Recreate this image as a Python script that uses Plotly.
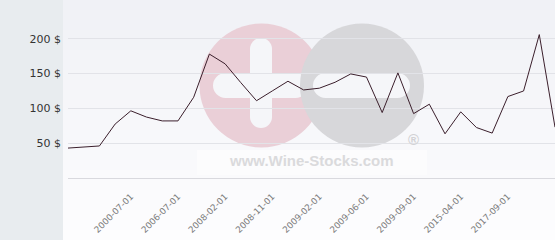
import plotly.graph_objects as go

# ---- data ----
categories = [
    "1995-07-01", "1997-07-01", "1998-07-01", "1999-07-01", "2000-07-01",
    "2002-07-01", "2004-07-01", "2006-07-01", "2007-01-01", "2007-07-01",
    "2008-02-01", "2008-05-01", "2008-08-01", "2008-11-01", "2008-12-01",
    "2009-01-01", "2009-02-01", "2009-03-01", "2009-04-01", "2009-06-01",
    "2009-07-01", "2009-08-01", "2009-09-01", "2011-01-01", "2013-01-01",
    "2015-04-01", "2016-01-01", "2016-09-01", "2017-09-01", "2018-06-01",
    "2019-06-01", "2020-06-01",
]
prices = [
    43, 44.5, 46, 77.5, 96.5, 87.5, 82, 82, 116, 178,
    164, 137, 111, 125, 139, 126.5, 129, 137.5, 149.5, 145,
    94, 151, 92.5, 106, 63.5, 95, 72.5, 64.5, 117, 125,
    206, 73,
]
tick_labels = ["2000-07-01", "2006-07-01", "2008-02-01", "2008-11-01",
               "2009-02-01", "2009-06-01", "2009-09-01", "2015-04-01",
               "2017-09-01"]
y_ticks = [50, 100, 150, 200]
y_tick_text = ["50 $", "100 $", "150 $", "200 $"]

# ---- geometry helpers (pixel -> paper) ----
W, H = 560, 240
L, R, T, B = 68, 5, 0, 62
PW, PH = W - L - R, H - T - B


def px(x):
    return (x - L) / PW


def py(y):
    return (H - B - y) / PH


shapes = []

# left panel
shapes.append(dict(type="rect", xref="paper", yref="paper", layer="below",
                   x0=px(0), x1=px(63), y0=py(240), y1=py(0),
                   fillcolor="#e8ecef", line=dict(width=0)))
# plot panel gradient bands
nb = 24
top = (240, 241, 246)
bot = (253, 253, 254)
for i in range(nb):
    t = i / (nb - 1)
    c = tuple(round(top[k] + (bot[k] - top[k]) * t) for k in range(3))
    y0 = 240 * i / nb
    y1 = 240 * (i + 1) / nb
    shapes.append(dict(type="rect", xref="paper", yref="paper", layer="below",
                       x0=px(63), x1=px(555), y0=py(y1 + 0.5), y1=py(y0),
                       fillcolor="rgb(%d,%d,%d)" % c, line=dict(width=0)))

# watermark image background
shapes.append(dict(type="rect", xref="paper", yref="paper", layer="below",
                   x0=px(197), x1=px(427), y0=py(175), y1=py(150),
                   fillcolor="#fcfcfd", line=dict(width=0)))


def circle(cx, cy, r, color):
    return dict(type="circle", xref="paper", yref="paper", layer="below",
                x0=px(cx - r), x1=px(cx + r), y0=py(cy + r), y1=py(cy - r),
                fillcolor=color, line=dict(width=0))


def rect(x0, x1, y0, y1, color):
    return dict(type="rect", xref="paper", yref="paper", layer="below",
                x0=px(x0), x1=px(x1), y0=py(y1), y1=py(y0),
                fillcolor=color, line=dict(width=0))


def hbar(x0, x1, y0, y1, color):
    r = (y1 - y0) / 2
    return [rect(x0 + r, x1 - r, y0, y1, color),
            circle(x0 + r, (y0 + y1) / 2, r, color),
            circle(x1 - r, (y0 + y1) / 2, r, color)]


def vbar(x0, x1, y0, y1, color):
    r = (x1 - x0) / 2
    return [rect(x0, x1, y0 + r, y1 - r, color),
            circle((x0 + x1) / 2, y0 + r, r, color),
            circle((x0 + x1) / 2, y1 - r, r, color)]


pink = "#eacfd7"
grey = "#d7d7da"
white = "#f5f6f9"
shapes.append(circle(261.5, 85.5, 62, pink))
shapes += vbar(250, 272, 38, 128, white)
shapes += hbar(213, 308, 73, 98, white)
shapes.append(circle(362, 85.5, 62, grey))
shapes += hbar(313, 410, 73, 98, white)

annotations = [
    dict(xref="paper", yref="paper", x=px(311), y=py(160.5), text="<b>www.Wine-Stocks.com</b>",
         showarrow=False, font=dict(family="Liberation Sans", size=15, color="#dadadc"),
         xanchor="center", yanchor="middle"),
    dict(xref="paper", yref="paper", x=px(413), y=py(139.5), text="<b>®</b>",
         showarrow=False, font=dict(family="Liberation Sans", size=15, color="#d2d2d5"),
         xanchor="center", yanchor="middle"),
]

fig = go.Figure()
fig.add_trace(go.Scatter(x=categories, y=prices, mode="lines",
                         line=dict(color="#3b1f2c", width=1), hoverinfo="skip"))

fig.update_layout(
    width=W, height=H,
    margin=dict(l=L, r=R, t=T, b=B),
    paper_bgcolor="#ffffff",
    plot_bgcolor="rgba(0,0,0,0)",
    showlegend=False,
    shapes=shapes,
    annotations=annotations,
    xaxis=dict(type="category", categoryorder="array", categoryarray=categories,
               range=[0, len(categories) - 1], tickmode="array", tickvals=tick_labels,
               ticktext=tick_labels, tickangle=-45, showgrid=False, zeroline=False,
               showline=True, linecolor="#d9d9de", linewidth=1, ticks="",
               tickfont=dict(family="DejaVu Sans", size=8.8, color="#7a7a7a"),
               ticklabelstandoff=9),
    yaxis=dict(range=[0, 255.7], tickmode="array", tickvals=y_ticks, ticktext=y_tick_text,
               showgrid=True, gridcolor="#e2e3e8", gridwidth=1, zeroline=False,
               showline=False, ticks="",
               tickfont=dict(family="DejaVu Sans", size=11, color="#333333"),
               ticklabelstandoff=6),
)

fig.write_html("out.html")
